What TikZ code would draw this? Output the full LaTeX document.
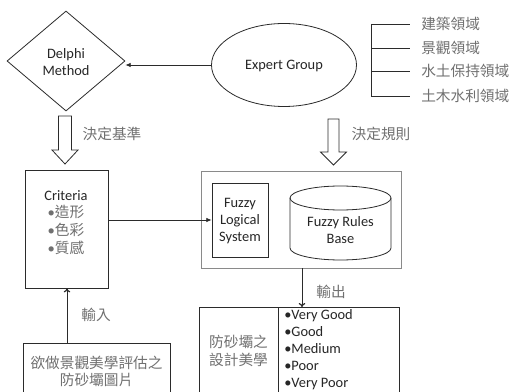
\documentclass[tikz,border=0pt]{standalone}
\usepackage{fontspec}
\setmainfont{Carlito}
\newfontfamily\cjk{Noto Sans CJK TC}
\usetikzlibrary{shapes.geometric,arrows.meta}
\definecolor{ln}{HTML}{2B2B2B}
\definecolor{cj}{HTML}{707070}
\definecolor{gb}{HTML}{8A8A8A}
\tikzset{
  lat/.style={font=\fontsize{10.8}{12.75}\selectfont, text=black!85, align=center, inner sep=0pt},
  cjt/.style={font=\cjk\fontsize{11}{12.9}\selectfont, text=cj, align=center, inner sep=0pt},
  box/.style={draw=ln, line width=0.6pt, rectangle, inner sep=0pt},
  conn/.style={draw=ln, line width=0.6pt},
  fillarrow/.style={conn, -{Latex[length=4pt,width=3.5pt]}},
  openarrow/.style={conn, -{To[length=3pt,width=5pt,line width=0.9pt]}},
  blockarrow/.style={draw=ln, line width=0.6pt, fill=white},
}
\begin{document}
\begin{tikzpicture}[x=0.75pt,y=-0.75pt]
\clip (0,0) rectangle (511,392);
\fill[white] (0,0) rectangle (511,392);

% Delphi diamond
\node[draw=ln, line width=0.6pt, diamond, inner sep=0pt, minimum width=0.75pt*118, minimum height=0.75pt*100] (delphi) at (66,61) {};
\node[lat] (delphit) at (66,62) {Delphi\\Method};

% Expert Group ellipse
\node[draw=ln, line width=0.6pt, ellipse, inner sep=0pt, minimum width=0.75pt*145, minimum height=0.75pt*83] (expert) at (284,65) {};
\node[lat] (expertt) at (284,66) {Expert Group};
\draw[fillarrow] (expert.west) -- (expert.west -| delphi.east);

% Domain bracket
\node[cjt, anchor=west] (d1) at (421,24) {建築領域};
\node[cjt, anchor=west] (d2) at (421,48) {景觀領域};
\node[cjt, anchor=west] (d3) at (421,71) {水土保持領域};
\node[cjt, anchor=west] (d4) at (421,96) {土木水利領域};
\coordinate (bt) at (371,24);
\coordinate (bb) at (371,96);
\draw[conn] (bt) -- (bb);
\foreach \i in {1,...,4}{
  \draw[conn] (d\i.west -| bt) -- ([xshift=-0.75pt*11]d\i.west);
}

% Block arrows
\draw[blockarrow] (58.5,116) -- (71.5,116) -- (71.5,150) -- (78,150) -- (65,164) -- (52,150) -- (58.5,150) -- cycle;
\node[cjt] (lab1) at (112,134) {決定基準};
\draw[blockarrow] (328,119) -- (339,119) -- (339,152) -- (346.5,152) -- (333.5,165) -- (320.5,152) -- (328,152) -- cycle;
\node[cjt] (lab2) at (381,134) {決定規則};

% Criteria
\node[box, minimum width=0.75pt*83, minimum height=0.75pt*118] (criteria) at (66.5,229) {};
\node[lat] (critt) at (66,196) {Criteria};
\node[cjt, align=left, font=\cjk\fontsize{11}{13.5}\selectfont, anchor=north] (critl) at (66,205) {{\fontspec{Carlito}•}造形\\{\fontspec{Carlito}•}色彩\\{\fontspec{Carlito}•}質感};

% Fuzzy system
\node[draw=gb, line width=0.6pt, rectangle, minimum width=0.75pt*200, minimum height=0.75pt*97] (outer) at (301,219.5) {};
\node[box, minimum width=0.75pt*56, minimum height=0.75pt*74] (fls) at (240,220) {};
\node[lat] (flst) at (240,221) {Fuzzy\\Logical\\System};
\node[minimum width=0.75pt*101, minimum height=0.75pt*74, inner sep=0pt] (frb) at (340.5,223) {};
\draw[conn] (290,198) -- (290,248) arc[start angle=180, end angle=360, x radius=0.75pt*50.5, y radius=0.75pt*12] -- (391,198);
\draw[conn] (340.5,198) ellipse [x radius=0.75pt*50.5, y radius=0.75pt*12];
\node[lat] (frbt) at (340.5,230) {Fuzzy Rules\\Base};
\draw[fillarrow] (criteria.east |- fls.west) -- (fls.west);

% Output
\node[box, minimum width=0.75pt*79, minimum height=0.75pt*110, anchor=north west] (outl) at (199,307) {};
\node[box, minimum width=0.75pt*121, minimum height=0.75pt*110, anchor=north west] (outr) at (278,307) {};
\node[cjt] (outlt) at (238.5,351) {防砂壩之\\設計美學};
\node[lat, align=left, anchor=north west, font=\fontsize{10.8}{12.8}\selectfont] (outrt) at (284,309) {•Very Good\\•Good\\•Medium\\•Poor\\•Very Poor};
\draw[openarrow] (outer.south -| 302,0) -- (outr.north -| 302,0);
\node[cjt] (lab3) at (331,292) {輸出};

% Input
\node[box, minimum width=0.75pt*147, minimum height=0.75pt*70, anchor=north west] (input) at (23,343) {};
\node[cjt] (inputt) at (96.5,371.5) {欲做景觀美學評估之\\防砂壩圖片};
\draw[openarrow] (input.north -| 67,0) -- (criteria.south -| 67,0);
\node[cjt] (lab4) at (96,315) {輸入};
\end{tikzpicture}
\end{document}
